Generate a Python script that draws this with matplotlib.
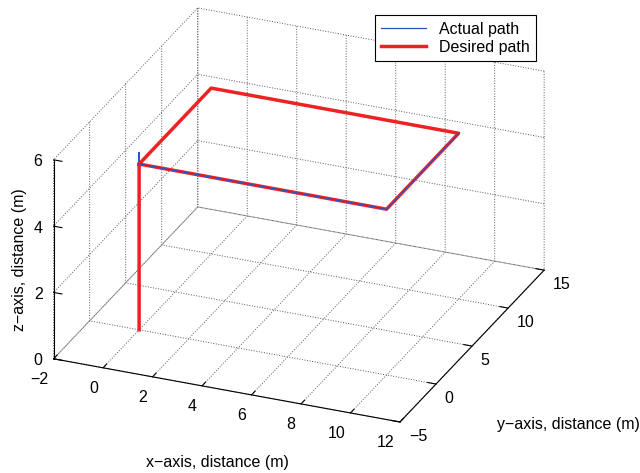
import matplotlib
matplotlib.use("Agg")
import matplotlib.pyplot as plt
import numpy as np

plt.rcParams['font.family'] = ['Liberation Sans', 'DejaVu Sans']
plt.rcParams['font.size'] = 11.5

# desired rectangular path: climb to 5 m, then trace a 10 x 10 m square
desired_x = [0, 0, 0, 10, 10, 0]
desired_y = [0, 0, 10, 10, 0, 0]
desired_z = [0, 5, 5, 5, 5, 5]

# tracked path (overshoots slightly at the top of the climb)
actual_x = [0, 0, 0, 0, 0, 10, 10, 0]
actual_y = [0, 0, 0, 0, 10, 10, 0, 0]
actual_z = [0, 5.35, 5.1, 5, 5, 5, 5, 5]

x_ticks = [-2, 0, 2, 4, 6, 8, 10, 12]
y_ticks = [-5, 0, 5, 10, 15]
z_ticks = [0, 2, 4, 6]

fig = plt.figure(figsize=(6.4, 4.73), dpi=100)
ax = fig.add_axes([-0.043, 0.032, 1.0, 1.0], projection='3d', computed_zorder=False,
                  proj_type='ortho')
ax.view_init(elev=26, azim=-67.4)
ax.set_box_aspect((1, 1, 0.59), zoom=1.18)

for axis in (ax.xaxis, ax.yaxis, ax.zaxis):
    axis.set_pane_color((1, 1, 1, 0))
    axis.pane.set_edgecolor('none')
    axis.line.set_color('k')
    axis.line.set_linewidth(0.8)
    axis._axinfo['grid'].update(color='0.35', linestyle=':', linewidth=0.7)
    axis._axinfo['tick'].update(inward_factor=0.0, outward_factor=0.3)
ax.zaxis._axinfo['tick'].update(inward_factor=0.3, outward_factor=0.0)

# put the z axis on the front-left vertical edge
_edge_points = ax.zaxis._get_axis_line_edge_points


def _front_left_edge(minmax, maxmin, position=None):
    p0, p1 = _edge_points(minmax, maxmin, position)
    p0, p1 = np.array(p0, float), np.array(p1, float)
    p0[0] = p1[0] = min(minmax[0], maxmin[0])
    p0[1] = p1[1] = min(minmax[1], maxmin[1])
    return p0, p1


ax.zaxis._get_axis_line_edge_points = _front_left_edge

# first legs of the tracked path sit under the desired path
ax.plot(actual_x[:6], actual_y[:6], actual_z[:6], color='#3050c0', lw=0.9,
        label='Actual path', zorder=2)
ax.plot(desired_x, desired_y, desired_z, color='#ee2222', lw=2.5,
        label='Desired path', zorder=3)
# closing leg drawn on top
ax.plot(actual_x[5:], actual_y[5:], actual_z[5:], color='#3050c0', lw=0.9,
        zorder=4)

ax.set_xlim(-2, 12)
ax.set_ylim(-5, 15)
ax.set_zlim(0, 6)
ax.set_xticks(x_ticks)
ax.set_yticks(y_ticks)
ax.set_zticks(z_ticks)
ax.set_xticklabels(['\u22122'] + [str(t) for t in x_ticks[1:]], ha='right')
ax.set_yticklabels(['\u22125'] + [str(t) for t in y_ticks[1:]], ha='left')
ax.set_zticklabels([str(t) for t in z_ticks], ha='right', va='center')
ax.tick_params(axis='x', pad=-1.5)
ax.tick_params(axis='y', pad=-3.5)
ax.tick_params(axis='z', pad=-4)

# axis titles sit flat, MATLAB style
fig.text(0.339, 0.023, 'x\u2212axis, distance (m)', ha='center', va='center')
fig.text(0.777, 0.1015, 'y\u2212axis, distance (m)', ha='left', va='center')
fig.text(0.03, 0.452, 'z\u2212axis, distance (m)', ha='center', va='center',
         rotation=90)

leg = fig.legend(loc='upper right', bbox_to_anchor=(0.8375, 0.968),
                 bbox_transform=fig.transFigure, fancybox=False,
                 edgecolor='k', framealpha=1, borderpad=0.4, handlelength=2.8,
                 labelspacing=0.2, borderaxespad=0)
leg.get_frame().set_linewidth(0.8)

fig.savefig('out.png', dpi=100)
